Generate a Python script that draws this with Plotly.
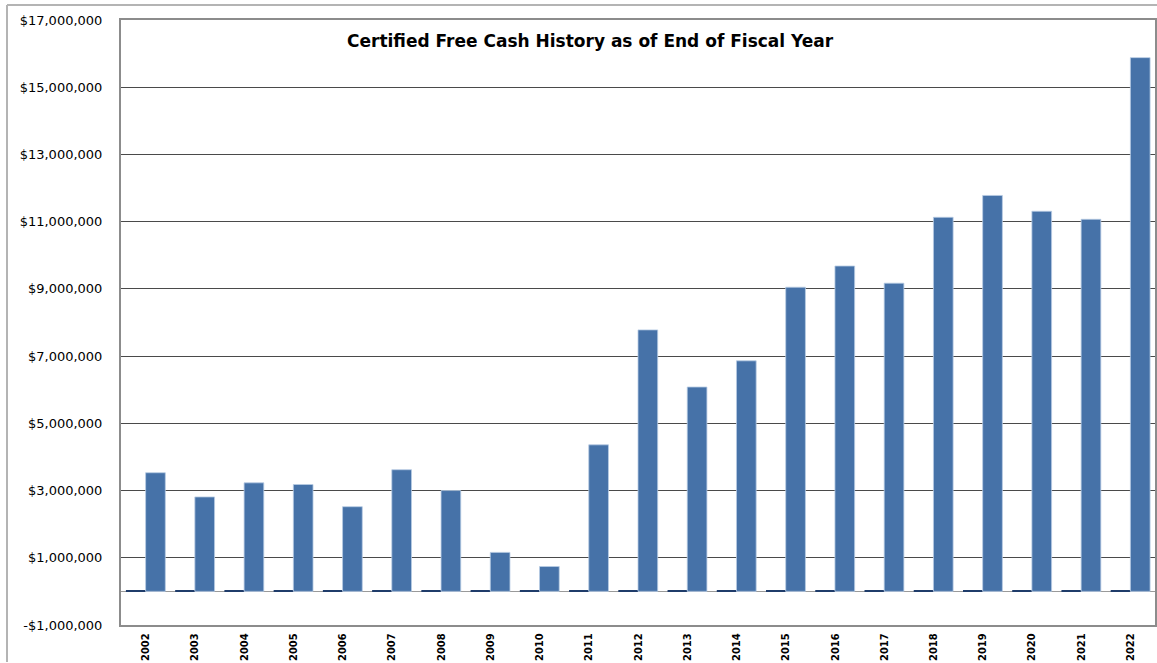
import plotly.graph_objects as go

years = [str(y) for y in range(2002, 2023)]
free_cash = [3530000, 2810000, 3230000, 3180000, 2520000, 3620000, 3000000,
             1160000, 740000, 4360000, 7780000, 6080000, 6860000, 9050000,
             9680000, 9170000, 11130000, 11780000, 11310000, 11070000, 15880000]
baseline_series = [40000] * len(years)

tick_vals = list(range(-1000000, 17000001, 2000000))
tick_text = [("-$" if v < 0 else "$") + f"{abs(v):,}" for v in tick_vals]

W, H = 1157, 663
L, R, T, B = 121, 2, 20, 38
pw, ph = W - L - R, H - T - B

fig = go.Figure()
fig.add_trace(go.Bar(x=years, y=baseline_series, marker=dict(color="#1f3c6a", line=dict(width=0)),
                     showlegend=False, hoverinfo="skip"))
fig.add_trace(go.Bar(x=years, y=free_cash,
                     marker=dict(color="#4672a8", line=dict(color="#b8cbe3", width=0.8)),
                     showlegend=False))

fig.update_layout(
    width=W, height=H,
    margin=dict(l=L, r=R, t=T, b=B, pad=0),
    paper_bgcolor="white", plot_bgcolor="white",
    barmode="group", bargap=0.2, bargroupgap=0.0,
    xaxis=dict(
        type="category", tickangle=-90, automargin=False,
        tickfont=dict(family="DejaVu Sans Condensed, DejaVu Sans", size=11,
                      color="black", weight="bold"),
        showline=True, linecolor="#8c8c8c", linewidth=2, mirror=True,
        ticks="", showgrid=False, ticklabelstandoff=2,
    ),
    yaxis=dict(
        range=[-1000000, 17000000], tickvals=tick_vals, ticktext=tick_text, automargin=False,
        tickfont=dict(family="DejaVu Sans", size=13, color="black"),
        showgrid=True, gridcolor="#4a4a4a", gridwidth=1.2,
        zeroline=True, zerolinecolor="#9a9a9a", zerolinewidth=1.2,
        showline=True, linecolor="#8c8c8c", linewidth=2, mirror=True,
        ticks="", ticklabelstandoff=14,
    ),
    annotations=[dict(
        text="<b>Certified Free Cash History as of End of Fiscal Year</b>",
        xref="paper", yref="paper",
        x=(590 - L) / pw, y=1 - (41 - T) / ph,
        xanchor="center", yanchor="middle", showarrow=False,
        font=dict(family="DejaVu Sans", size=17, color="black"),
    )],
    shapes=[
        dict(type="line", xref="paper", yref="paper",
             x0=(7 - L) / pw, x1=(7 - L) / pw, y0=1 + (T - 5) / ph, y1=-(H - T - 1 - ph) / ph,
             line=dict(color="#b4b4b4", width=2)),
        dict(type="line", xref="paper", yref="paper",
             x0=(7 - L) / pw, x1=(W - L) / pw, y0=1 + (T - 5) / ph, y1=1 + (T - 5) / ph,
             line=dict(color="#b4b4b4", width=2)),
    ],
)

fig.write_html("out.html")
